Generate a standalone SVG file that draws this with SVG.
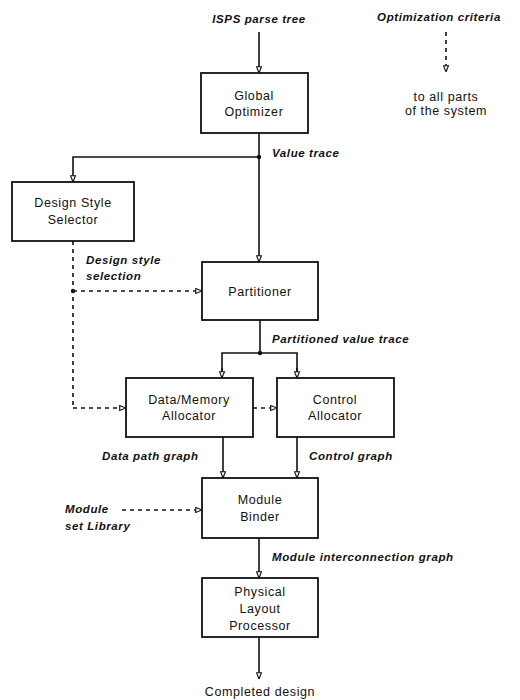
<svg xmlns="http://www.w3.org/2000/svg" width="520" height="700" viewBox="0 0 520 700">
<style>
.box{fill:#fff;stroke:#111;stroke-width:1.8}
.lbl{font-family:"Liberation Sans",Arial,sans-serif;font-size:12.5px;letter-spacing:0.6px;fill:#111;text-anchor:middle}
.it{font-family:"Liberation Sans",Arial,sans-serif;font-size:11.5px;letter-spacing:0.6px;font-style:italic;font-weight:bold;fill:#111}
.ln{fill:none;stroke:#111;stroke-width:1.6}
.dl{fill:none;stroke:#111;stroke-width:1.6;stroke-dasharray:4 4}
</style>
<defs>
<marker id="ah" viewBox="0 0 10 10" refX="10" refY="5" markerWidth="7" markerHeight="7" orient="auto" markerUnits="userSpaceOnUse">
<path d="M1,1.5 L10,5 L1,8.5 Z" fill="#fff" stroke="#111" stroke-width="1.6"/>
</marker>
</defs>
<rect width="520" height="700" fill="#fff"/>
<g id="connectors">
<line class="ln" x1="259" y1="32" x2="259" y2="73" marker-end="url(#ah)"/>
<line class="dl" x1="446" y1="32" x2="446" y2="72" marker-end="url(#ah)"/>
<line class="ln" x1="259" y1="133" x2="259" y2="262" marker-end="url(#ah)"/>
<polyline class="ln" points="259,157 73,157 73,182" marker-end="url(#ah)"/>
<circle cx="259" cy="157" r="2.2" fill="#111"/>
<line class="dl" x1="73" y1="241" x2="73" y2="408"/>
<line class="dl" x1="73" y1="291" x2="202" y2="291" marker-end="url(#ah)"/>
<circle cx="73" cy="291" r="2.2" fill="#111"/>
<line class="dl" x1="73" y1="408" x2="126" y2="408" marker-end="url(#ah)"/>
<line class="dl" x1="253" y1="408" x2="277" y2="408" marker-end="url(#ah)"/>
<line class="ln" x1="260" y1="320" x2="260" y2="353"/>
<polyline class="ln" points="222,378 222,353 297,353 297,378"/>
<line class="ln" x1="222" y1="368" x2="222" y2="378" marker-end="url(#ah)"/>
<line class="ln" x1="297" y1="368" x2="297" y2="378" marker-end="url(#ah)"/>
<circle cx="260" cy="353" r="2.2" fill="#111"/>
<line class="ln" x1="223" y1="437" x2="223" y2="478" marker-end="url(#ah)"/>
<line class="ln" x1="297" y1="437" x2="297" y2="478" marker-end="url(#ah)"/>
<line class="dl" x1="122" y1="510" x2="202" y2="510" marker-end="url(#ah)"/>
<line class="ln" x1="259" y1="538" x2="259" y2="578" marker-end="url(#ah)"/>
<line class="ln" x1="259" y1="637" x2="259" y2="679" marker-end="url(#ah)"/>
</g>
<g id="labels">
<text class="it" x="259" y="23" text-anchor="middle">ISPS parse tree</text>
<text class="it" x="439" y="21" text-anchor="middle">Optimization criteria</text>
<text class="lbl" x="446" y="101">to all parts</text>
<text class="lbl" x="446" y="115">of the system</text>
<text class="it" x="272" y="157">Value trace</text>
<text class="it" x="86" y="264">Design style</text>
<text class="it" x="86" y="280">selection</text>
<text class="it" x="272" y="343">Partitioned value trace</text>
<text class="it" x="102" y="460">Data path graph</text>
<text class="it" x="309" y="460">Control graph</text>
<text class="it" x="65" y="513">Module</text>
<text class="it" x="65" y="530">set Library</text>
<text class="it" x="272" y="561">Module interconnection graph</text>
<text class="lbl" x="260" y="696">Completed design</text>
</g>
<g id="global-optimizer">
<rect class="box" x="201" y="73" width="107" height="60"/>
<text class="lbl" x="254" y="100">Global</text>
<text class="lbl" x="254" y="116">Optimizer</text>
</g>
<g id="design-style-selector">
<rect class="box" x="12" y="182" width="122" height="59"/>
<text class="lbl" x="73" y="207">Design Style</text>
<text class="lbl" x="73" y="224">Selector</text>
</g>
<g id="partitioner">
<rect class="box" x="202" y="262" width="116" height="58"/>
<text class="lbl" x="260" y="296">Partitioner</text>
</g>
<g id="data-memory-allocator">
<rect class="box" x="126" y="378" width="127" height="59"/>
<text class="lbl" x="189" y="404">Data/Memory</text>
<text class="lbl" x="189" y="420">Allocator</text>
</g>
<g id="control-allocator">
<rect class="box" x="277" y="378" width="117" height="59"/>
<text class="lbl" x="335" y="404">Control</text>
<text class="lbl" x="335" y="420">Allocator</text>
</g>
<g id="module-binder">
<rect class="box" x="202" y="478" width="116" height="60"/>
<text class="lbl" x="260" y="504">Module</text>
<text class="lbl" x="260" y="521">Binder</text>
</g>
<g id="physical-layout-processor">
<rect class="box" x="202" y="578" width="116" height="59"/>
<text class="lbl" x="260" y="596">Physical</text>
<text class="lbl" x="260" y="613">Layout</text>
<text class="lbl" x="260" y="630">Processor</text>
</g>
</svg>
